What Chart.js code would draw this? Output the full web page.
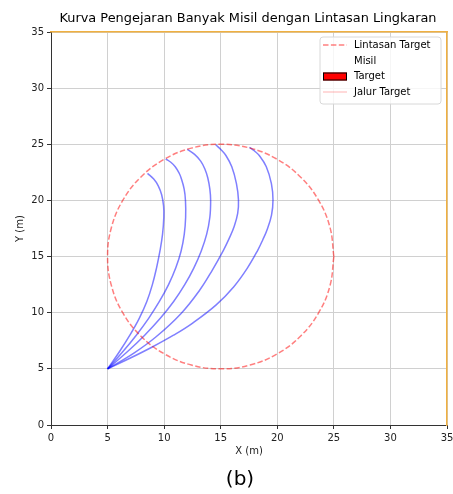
<!DOCTYPE html>
<html>
<head>
<meta charset="utf-8">
<script src="https://cdn.jsdelivr.net/npm/chart.js@4"></script>
<style>
html,body{margin:0;padding:0;background:#fff;}
#wrap{width:453px;height:494px;position:relative;}
</style>
</head>
<body>
<div id="wrap"><canvas id="c" width="453" height="494"></canvas></div>
<script>
// ---- data ----
const titleText = "Kurva Pengejaran Banyak Misil dengan Lintasan Lingkaran";
const captionText = "(b)";
const xTicks = [0, 5, 10, 15, 20, 25, 30, 35];
const yTicks = [0, 5, 10, 15, 20, 25, 30, 35];
const legendLabels = ["Lintasan Target", "Misil", "Target", "Jalur Target"];

// target circle path (center 15,15 radius 10), points read around the circle
const circleX = [25, 24.66, 23.66, 22.07, 20, 17.59, 15, 12.41, 10, 7.93, 6.34, 5.34, 5, 5.34, 6.34, 7.93, 10, 12.41, 15, 17.59, 20, 22.07, 23.66, 24.66, 25];
const circleY = [15, 17.59, 20, 22.07, 23.66, 24.66, 25, 24.66, 23.66, 22.07, 20, 17.59, 15, 12.41, 10, 7.93, 6.34, 5.34, 5, 5.34, 6.34, 7.93, 10, 12.41, 15];

// missiles, all launched from (5,5)
const missile1X = [5, 6.03, 6.97, 7.80, 8.47, 8.96, 9.33, 9.63, 9.86, 9.97, 9.95, 9.78, 9.48, 9.08, 8.53];
const missile1Y = [5, 6.5, 8, 9.5, 11, 12.5, 14, 15.5, 17, 18.5, 19.5, 20.5, 21.3, 21.9, 22.41];
const missile2X = [5, 6.32, 7.54, 8.63, 9.58, 10.39, 11.03, 11.50, 11.78, 11.90, 11.885, 11.77, 11.50, 11.33, 10.98, 10.59, 10.14];
const missile2Y = [5, 6.5, 8, 9.5, 11, 12.5, 14, 15.5, 17, 18.5, 20, 21, 22, 22.42, 23, 23.4, 23.69];
const missile3X = [5, 6.72, 8.28, 9.66, 10.84, 11.82, 12.63, 13.28, 13.76, 14.04, 14.11, 14.04, 13.86, 13.60, 13.23, 12.69, 12.05];
const missile3Y = [5, 6.5, 8, 9.5, 11, 12.5, 14, 15.5, 17, 18.5, 20, 21, 22, 22.8, 23.5, 24.1, 24.55];
const missile4X = [5, 7.36, 9.29, 11.50, 13.15, 14.26, 15.25, 15.75, 16.18, 16.50, 16.57, 16.39, 15.98, 15.46, 15.05, 14.55];
const missile4Y = [5, 6.43, 7.86, 9.94, 12.02, 13.8, 15.58, 16.62, 17.66, 18.85, 20.04, 21.5, 23, 24, 24.5, 24.96];
const missile5X = [5, 7.06, 8.99, 10.83, 12.49, 14.60, 16.16, 17.34, 18.28, 18.72, 19.09, 19.49, 19.62, 19.48, 19.03, 18.41, 17.99, 17.54];
const missile5Y = [5, 5.985, 6.97, 8.0, 9.06, 10.7, 12.32, 13.95, 15.58, 16.5, 17.37, 18.7, 20.04, 21.5, 23, 24, 24.4, 24.73];

const FONT = "'DejaVu Sans', sans-serif";
const toPts = (xs, ys) => xs.map((x, i) => ({x: x, y: ys[i]}));

const missileStyle = {
  borderColor: 'rgba(0,0,255,0.5)', borderWidth: 1.5, pointRadius: 0,
  showLine: true, fill: false, tension: 0.4
};

const datasets = [
  Object.assign({label: legendLabels[0], data: toPts(circleX, circleY)}, {
    borderColor: 'rgba(255,0,0,0.5)', borderWidth: 1.5, borderDash: [5.5, 2.4],
    pointRadius: 0, showLine: true, fill: false, tension: 0.4
  }),
  Object.assign({label: legendLabels[1], data: toPts(missile1X, missile1Y)}, missileStyle),
  Object.assign({label: '', data: toPts(missile2X, missile2Y)}, missileStyle),
  Object.assign({label: '', data: toPts(missile3X, missile3Y)}, missileStyle),
  Object.assign({label: '', data: toPts(missile4X, missile4Y)}, missileStyle),
  Object.assign({label: '', data: toPts(missile5X, missile5Y)}, missileStyle)
];

const textPlugin = {
  id: 'texts',
  afterDraw(chart) {
    const ctx = chart.ctx;
    ctx.save();
    ctx.fillStyle = '#000';
    ctx.textAlign = 'center';
    ctx.textBaseline = 'middle';
    ctx.font = "12.9px " + FONT;
    ctx.fillText(titleText, 248, 19);
    ctx.font = "20px " + FONT;
    ctx.fillText(captionText, 240, 480);

    // legend box
    const bx = 320, by = 37, bw = 121, bh = 67;
    ctx.beginPath();
    ctx.roundRect(bx, by, bw, bh, 3);
    ctx.fillStyle = 'rgba(255,255,255,0.8)';
    ctx.fill();
    ctx.strokeStyle = '#d8d8d8';
    ctx.lineWidth = 1;
    ctx.stroke();
    const rows = [45, 61, 76.5, 92];
    const hx0 = 323, hx1 = 347;
    ctx.strokeStyle = 'rgba(255,0,0,0.5)';
    ctx.lineWidth = 1.5;
    ctx.setLineDash([5.5, 2.4]);
    ctx.beginPath(); ctx.moveTo(hx0, rows[0]); ctx.lineTo(hx1, rows[0]); ctx.stroke();
    ctx.setLineDash([]);
    ctx.fillStyle = '#ff0000';
    ctx.fillRect(hx0, rows[2] - 4, hx1 - hx0, 8);
    ctx.strokeStyle = '#000';
    ctx.lineWidth = 1;
    ctx.strokeRect(hx0 + 0.5, rows[2] - 3.5, hx1 - hx0 - 1, 7);
    ctx.strokeStyle = 'rgba(255,0,0,0.2)';
    ctx.lineWidth = 1.5;
    ctx.beginPath(); ctx.moveTo(hx0, rows[3]); ctx.lineTo(hx1, rows[3]); ctx.stroke();
    ctx.fillStyle = '#000';
    ctx.textAlign = 'left';
    ctx.font = "10px " + FONT;
    legendLabels.forEach((t, i) => ctx.fillText(t, 354, rows[i]));
    ctx.restore();
  }
};

new Chart(document.getElementById('c'), {
  type: 'scatter',
  data: {datasets: datasets},
  plugins: [textPlugin],
  options: {
    responsive: false,
    animation: false,
    layout: {padding: {top: 32, right: 6, left: 0, bottom: 0}},
    plugins: {legend: {display: false}, tooltip: {enabled: false}, title: {display: false}},
    scales: {
      x: {
        type: 'linear', position: 'bottom', min: 0, max: 35,
        afterBuildTicks: s => { s.ticks = xTicks.map(v => ({value: v})); },
        afterFit: s => { s.height = 69; s.paddingRight = 0; s.paddingLeft = 0; },
        ticks: {color: '#222', font: {family: FONT, size: 10}, padding: 3, maxRotation: 0, autoSkip: false},
        grid: {color: '#d0d0d0', lineWidth: 1, tickLength: 4, tickColor: '#333'},
        border: {color: '#333', width: 1},
        title: {display: true, text: 'X (m)', color: '#222', font: {family: FONT, size: 10}, padding: {top: 0, bottom: 37}}
      },
      y: {
        type: 'linear', position: 'left', min: 0, max: 35,
        afterBuildTicks: s => { s.ticks = yTicks.map(v => ({value: v})); },
        afterFit: s => { s.width = 51; s.paddingTop = 0; s.paddingBottom = 0; },
        ticks: {color: '#222', font: {family: FONT, size: 10}, padding: 3, autoSkip: false},
        grid: {color: '#d0d0d0', lineWidth: 1, tickLength: 4, tickColor: '#333'},
        border: {color: '#333', width: 1},
        title: {display: true, text: 'Y (m)', color: '#222', font: {family: FONT, size: 10}, padding: {top: 14, bottom: 0}}
      },
      x2: {
        type: 'linear', position: 'top', min: 0, max: 35,
        ticks: {display: false}, grid: {display: false, drawTicks: false},
        border: {color: '#f0b040', width: 1.5},
        afterFit: s => { s.height = 0; s.paddingLeft = 0; s.paddingRight = 0; }
      },
      y2: {
        type: 'linear', position: 'right', min: 0, max: 35,
        ticks: {display: false}, grid: {display: false, drawTicks: false},
        border: {color: '#f0b040', width: 1.5},
        afterFit: s => { s.width = 0; s.paddingTop = 0; s.paddingBottom = 0; }
      }
    }
  }
});
</script>
</body>
</html>
